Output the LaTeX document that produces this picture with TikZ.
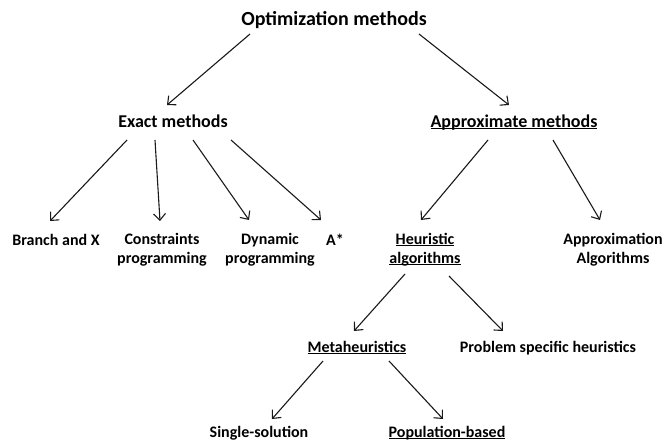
\documentclass[tikz,border=0pt]{standalone}
\usepackage{fontspec}
\setmainfont{Carlito}
\usetikzlibrary{arrows.meta,calc}
\newcommand{\ulword}[1]{\setbox0=\hbox{#1}\rlap{\rule[-0.11em]{\wd0}{0.065em}}\box0}
\tikzset{
  lbl/.style={font=\bfseries\fontsize{16}{19}\selectfont, align=center, inner sep=0pt},
  lvltwo/.style={font=\bfseries\fontsize{18}{21}\selectfont, inner sep=0pt, anchor=base},
  ttl/.style={font=\bfseries\fontsize{20}{24}\selectfont, inner sep=0pt, anchor=base},
  oneline/.style={anchor=base},
  conn/.style={-{Straight Barb[length=6.5pt,width=12pt]}, line width=1.1pt, black!90}
}
\begin{document}
\begin{tikzpicture}[x=1pt,y=-1pt]
\useasboundingbox (0,0) rectangle (665,442);
\node[ttl] (opt) at (334,25) {Optimization methods};
\node[lvltwo] (exact) at (173,127.5) {Exact methods};
\node[lvltwo] (approx) at (514,127.5) {\ulword{Approximate methods}};
\node[lbl, oneline] (bnb) at (56,245.5) {Branch and X};
\node[lbl] (cp) at (162,249.5) {Constraints\\programming};
\node[lbl] (dp) at (270,249.5) {Dynamic\\programming};
\node[lbl, oneline] (astar) at (335,245.5) {A*};
\node[lbl] (heur) at (425,249.5) {\ulword{Heuristic}\\\ulword{algorithms}};
\node[lbl] (approxalg) at (613,249.5) {Approximation\\Algorithms};
\node[lbl, oneline] (meta) at (357,352) {\ulword{Metaheuristics}};
\node[lbl, oneline] (psh) at (548,352) {Problem specific heuristics};
\node[lbl, oneline] (single) at (259,437.5) {Single-solution};
\node[lbl, oneline] (pop) at (447,437.5) {\ulword{Population-based}};

\draw[conn] ($(opt.base)+(-84,9)$) -- ($(exact.base)+(-6,-22.5)$);
\draw[conn] ($(opt.base)+(85,9)$) -- ($(approx.base)+(-5,-22.5)$);
\draw[conn] ($(exact.base)+(-46,12.5)$) -- ($(bnb.base)+(-6,-24.5)$);
\draw[conn] ($(exact.base)+(-18,12.5)$) -- ($(cp)+(-2,-28.5)$);
\draw[conn] ($(exact.base)+(20,12.5)$) -- ($(dp)+(-21,-29.5)$);
\draw[conn] ($(exact.base)+(58,12.5)$) -- ($(astar.base)+(-14,-25.5)$);
\draw[conn] ($(approx.base)+(-26,12.5)$) -- ($(heur)+(-4,-29.5)$);
\draw[conn] ($(approx.base)+(39,12.5)$) -- ($(approxalg)+(-13,-29.5)$);
\draw[conn] ($(heur)+(-20,24.5)$) -- ($(meta.base)+(-3,-21)$);
\draw[conn] ($(heur)+(24,26.5)$) -- ($(psh.base)+(-45,-21)$);
\draw[conn] ($(meta.base)+(-34,9)$) -- ($(single.base)+(13,-18.5)$);
\draw[conn] ($(meta.base)+(32,9)$) -- ($(pop.base)+(-4,-18.5)$);
\end{tikzpicture}
\end{document}
